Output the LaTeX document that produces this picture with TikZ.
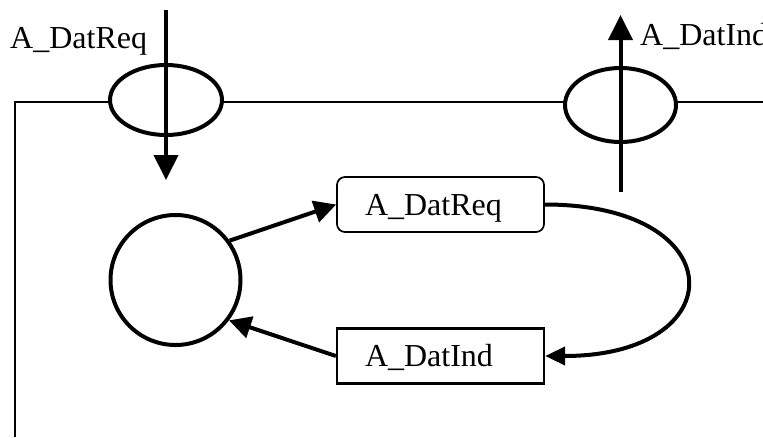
\documentclass[tikz,border=0pt]{standalone}
\usepackage{fontspec}
\setmainfont{Liberation Serif}
\usetikzlibrary{arrows.meta,shapes.geometric}

\tikzset{
  frame/.style={line width=1.3pt},
  port/.style={ellipse, draw, fill=white, line width=4pt, inner sep=0pt},
  bigarrow/.style={line width=4pt, -{Triangle[length=25pt,width=24pt]}},
  midarrow/.style={line width=4pt, -{Triangle[length=22pt,width=22pt]}},
  loopend/.style={line width=4pt, -{Triangle[length=20pt,width=18pt]}},
  state/.style={circle, draw, line width=4pt, minimum size=130pt, inner sep=0pt},
  msgbox/.style={draw, inner xsep=28pt, inner ysep=0pt, text width=151pt,
    align=left, text height=38pt, text depth=17pt},
  lbl/.style={inner sep=0pt, anchor=base west},
  every node/.style={font=\fontsize{32}{38}\selectfont}
}

\begin{document}
\begin{tikzpicture}[x=1pt,y=-1pt]
  \useasboundingbox (0,0) rectangle (763,437);
  \clip (0,0) rectangle (763,437);

  % outer frame of the process
  \coordinate (fr) at (763,102);
  \coordinate (fc) at (15,102);
  \coordinate (fb) at (15,437);
  \draw[frame] (fr) -- (fc) -- (fb);

  % gates on the frame
  \node[port, minimum width=112pt, minimum height=70pt] (gin) at (166,100) {};
  \node[port, minimum width=111pt, minimum height=74pt] (gout) at (620.5,105) {};

  % signals through the gates
  \coordinate (inTop) at (166,10);
  \coordinate (inBot) at (166,180);
  \draw[bigarrow] (inTop) -- (inBot);
  \node[lbl] (inLbl) at (10,48) {A\_DatReq};

  \coordinate (outBot) at (620.5,192);
  \coordinate (outTop) at (620.5,15);
  \draw[bigarrow] (outBot) -- (outTop);
  \node[lbl] (outLbl) at (640,45) {A\_DatInd};

  % state machine
  \node[state] (st) at (175.5,280) {};
  \node[msgbox, rounded corners=8pt, line width=1.7pt] (req) at (440.5,204.5) {A\_DatReq};
  \node[msgbox, line width=2.3pt] (ind) at (440.5,356) {A\_DatInd};

  \draw[midarrow] (st.36) -- (req.west);
  \draw[loopend] (req.east) .. controls +(189,0) and +(189,0) .. (ind.east);
  \draw[midarrow] (ind.west) -- (st.-37);
\end{tikzpicture}
\end{document}
